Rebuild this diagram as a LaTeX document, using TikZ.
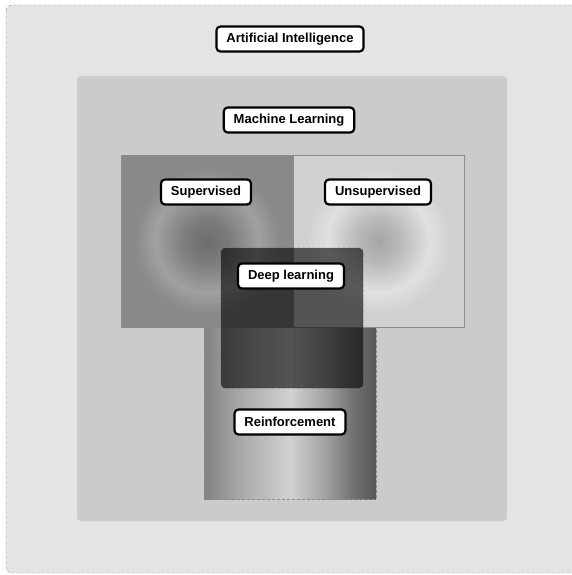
\documentclass[tikz,border=0pt]{standalone}
\usepackage{fontspec}
\setmainfont{Liberation Sans}
\usepackage{tikz}

\definecolor{aigray}{HTML}{E4E4E4}
\definecolor{mlgray}{HTML}{CBCBCB}
\definecolor{edgegray}{HTML}{8C8C8C}

\pgfdeclareradialshading{supshade}{\pgfpoint{0bp}{0bp}}{%
  color(0bp)=(black!57); color(6bp)=(black!52); color(15bp)=(black!37);
  color(21bp)=(black!46); color(50bp)=(black!47)}
\pgfdeclareradialshading{unsupshade}{\pgfpoint{0bp}{0bp}}{%
  color(0bp)=(black!35); color(6bp)=(black!28); color(15bp)=(black!12);
  color(21bp)=(black!18); color(50bp)=(black!18)}
\pgfdeclarehorizontalshading{reinshade}{100bp}{%
  color(0bp)=(black!49); color(25bp)=(black!49); color(37bp)=(black!32);
  color(50bp)=(black!18); color(60bp)=(black!36); color(68bp)=(black!55);
  color(75bp)=(black!66); color(100bp)=(black!66)}

\tikzset{
  tag/.style={draw, fill=white, line width=2.2pt, rounded corners=4pt,
    inner xsep=10pt, minimum height=25pt,
    font=\fontsize{13}{15}\selectfont\bfseries},
  fieldbox/.style={draw=edgegray, densely dashed, line width=0.4pt}
}

\begin{document}
\begin{tikzpicture}[x=1pt, y=-1pt]
        \useasboundingbox (0,0) rectangle (571,575);

        %Artificial Intelligence
        \draw [fieldbox, fill=aigray, rounded corners=6pt] (6,5) rectangle (600,573);
        \node [tag] (ai) at (290,39) {Artificial Intelligence};

        %Machine Learning
        \draw [draw=white!90!black, fill=mlgray, rounded corners=3pt] (77,76) rectangle (507,521);
        \node [tag] (ml) at (289,120) {Machine Learning};

        %Reinforcement
        \draw [fieldbox, shading=reinshade] (204,327) rectangle (376,499);

        %Supervised
        \draw [fieldbox, shading=supshade] (121,155) rectangle (293,327);
        %Unsupervised
        \draw [draw=edgegray, line width=0.4pt, shading=unsupshade] (293,155) rectangle (464,327);

        %Deep learning
        \draw [draw=black!80, densely dashed, line width=0.4pt, fill=black, fill opacity=0.6,
          rounded corners=4pt] (221,248) rectangle (363,388);

        \node [tag] (sup)   at (206,192) {Supervised};
        \node [tag] (unsup) at (378,192) {Unsupervised};
        \node [tag] (deep)  at (291,276) {Deep learning};
        \node [tag] (rein)  at (290,422) {Reinforcement};
\end{tikzpicture}
\end{document}
